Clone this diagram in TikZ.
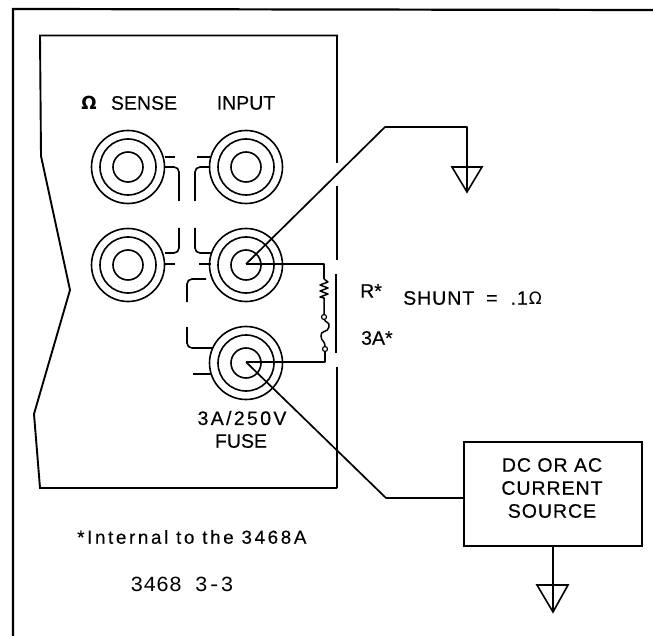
\documentclass[tikz,border=0pt]{standalone}
\usepackage{fontspec}
\setmainfont[FakeBold=0.4]{Liberation Sans}
\newfontfamily\spacedfont[FakeBold=0.4,LetterSpace=14]{Liberation Sans}
\newfontfamily\wideword[FakeBold=0.4,LetterSpace=12]{Liberation Sans}
\newfontfamily\wordfont[FakeBold=0.4,LetterSpace=5]{Liberation Sans}
\newfontfamily\codefont{Liberation Mono}
\newfontfamily\omfont{DejaVu Sans}
\tikzset{
  x=1pt,y=-1pt,
  frameline/.style={line width=2.2pt},
  panel/.style={line width=1.9pt},
  wire/.style={line width=1.7pt,line join=round},
  ring/.style={circle,draw,line width=1.6pt,minimum size=#1,inner sep=0pt},
  stub/.style={line width=1.6pt,rounded corners=5pt},
  gnd/.style={line width=1.6pt,line join=miter},
  label/.style={inner sep=0pt,font=\fontsize{19.5}{19.5}\selectfont},
  small/.style={inner sep=0pt,font=\spacedfont\fontsize{18.8}{18.8}\selectfont},
  pin/.style={circle,draw,line width=1.2pt,minimum size=5pt,inner sep=0pt},
  srcbox/.style={draw,line width=2pt,minimum width=178pt,minimum height=104pt,inner sep=0pt,align=center},
}
\newcommand{\jackrings}[3]{%
  \node[ring=73pt] (#1o) at (#2,#3) {};
  \node[ring=56pt] (#1m) at (#2,#3) {};
  \node[ring=30pt] (#1i) at (#2,#3) {};
}
\begin{document}
\begin{tikzpicture}
\useasboundingbox (0,0) rectangle (653,636);
% outer frame
\coordinate (fa) at (13,636); \coordinate (fb) at (13,9); \coordinate (fc) at (653,10);
\draw[frameline] (fa) -- (fb) -- (fc);
% panel
\coordinate (p1) at (338,35.5); \coordinate (p2) at (40,35.5); \coordinate (p3) at (41,156);
\coordinate (p4) at (70,290); \coordinate (p5) at (34,414); \coordinate (p6) at (40,488); \coordinate (p7) at (337,488);
\draw[panel] (p1) -- (p2) -- (p3) -- (p4) -- (p5) -- (p6) -- (p7);
\coordinate (e1) at (337,35); \coordinate (e2) at (337,163);
\coordinate (e3) at (337,186); \coordinate (e4) at (337,260);
\coordinate (e5) at (336,274); \coordinate (e6) at (336,353);
\coordinate (e7) at (337,367); \coordinate (e8) at (337,488);
\draw[panel] (e1) -- (e2) (e3) -- (e4) (e5) -- (e6) (e7) -- (e8);
% jacks
\jackrings{tl}{128}{167}
\jackrings{tr}{246}{167}
\jackrings{bl}{128}{265}
\jackrings{br}{246}{265}
\jackrings{fu}{246}{363}
% stubs
\draw[stub] (165,157) -- (175,157);
\draw[stub] (165,167) -- (179,167) -- (179,201);
\draw[stub] (197,157) -- (210,157);
\draw[stub] (210,167) -- (195,167) -- (195,201);
\draw[stub] (179,228) -- (179,253) -- (165,253);
\draw[stub] (165,264) -- (175,264);
\draw[stub] (195,228) -- (195,253) -- (211,253);
\draw[stub] (199,264) -- (211,264);
\draw[stub] (206,279) -- (187,279) -- (187,302);
\draw[stub] (187,327) -- (187,348) -- (212,348);
\draw[stub] (193,374) -- (212,374);
% wires
\coordinate (brc) at (246,264); \coordinate (fuc) at (246,362);
\coordinate (g1a) at (385,127); \coordinate (g1b) at (467,127); \coordinate (g1c) at (467,192);
\draw[wire] (brc) -- (g1a) -- (g1b) -- (g1c);
\coordinate (g1l) at (452,167); \coordinate (g1r) at (482,167);
\draw[gnd] (g1l) -- (g1r) -- (g1c) -- cycle;
% shunt and fuse network
\coordinate (r0) at (324,264); \coordinate (r1) at (324,279); \coordinate (r2) at (324,298);
\node[pin] (pa) at (324,317) {};
\node[pin] (pb) at (325,349) {};
\coordinate (r3) at (325,362);
\draw[wire] (brc) -- (r0) -- (r1);
\draw[line width=1.5pt,line join=round] (r1) -- (328,282) -- (320,285) -- (328,288) -- (320,291) -- (328,294) -- (320,297) -- (r2) -- (pa);
\draw[line width=1.5pt] (pa) .. controls (325,322) and (330,322) .. (329,327) .. controls (328,333) and (320,330) .. (321,336) .. controls (321,341) and (325,341) .. (pb);
\draw[wire] (pb) -- (r3) -- (fuc);
% current source
\node[srcbox] (src) at (553,494) {};
\node[label,font=\wordfont\fontsize{19.5}{19.5}\selectfont] (t1) at (552,465) {DC OR AC};
\node[label,font=\wordfont\fontsize{19.5}{19.5}\selectfont] (t2) at (552,488) {CURRENT};
\node[label,font=\wordfont\fontsize{19.5}{19.5}\selectfont] (t3) at (552,511) {SOURCE};
\coordinate (s1) at (386,498);
\draw[wire] (fuc) -- (s1) -- (src.west |- s1);
\coordinate (g2c) at (553,612); \coordinate (g2l) at (537,585); \coordinate (g2r) at (568,585);
\draw[wire] (src.south -| g2c) -- (g2c);
\draw[gnd] (g2l) -- (g2r) -- (g2c) -- cycle;
% texts
\node[label] (om) at (89,103) {\omfont\fontsize{18}{18}\selectfont\bfseries Ω};
\node[label] (sn) at (144,103) {SENSE};
\node[label] (in) at (246,103) {INPUT};
\node[label,font=\wideword\fontsize{19.5}{19.5}\selectfont] (fa1) at (242,418) {3A/250V};
\node[label] (fa2) at (241,441) {FUSE};
\node[label,anchor=west] (rs) at (360,291) {R*};
\node[label,anchor=west,font=\wordfont\fontsize{19.5}{19.5}\selectfont] (sh) at (403,298) {SHUNT\hspace{12pt}=\hspace{13pt}.1\hspace{1pt}{\omfont\fontsize{17}{17}\selectfont Ω}};
\node[label,anchor=west] (ta) at (361,338) {3A*};
\node[small,anchor=west] (nt) at (77,537) {*Internal to the 3468A};
\node[inner sep=0pt,font=\codefont\fontsize{21.5}{21.5}\selectfont] (cd) at (182,584) {3468 3-3};
\end{tikzpicture}
\end{document}
